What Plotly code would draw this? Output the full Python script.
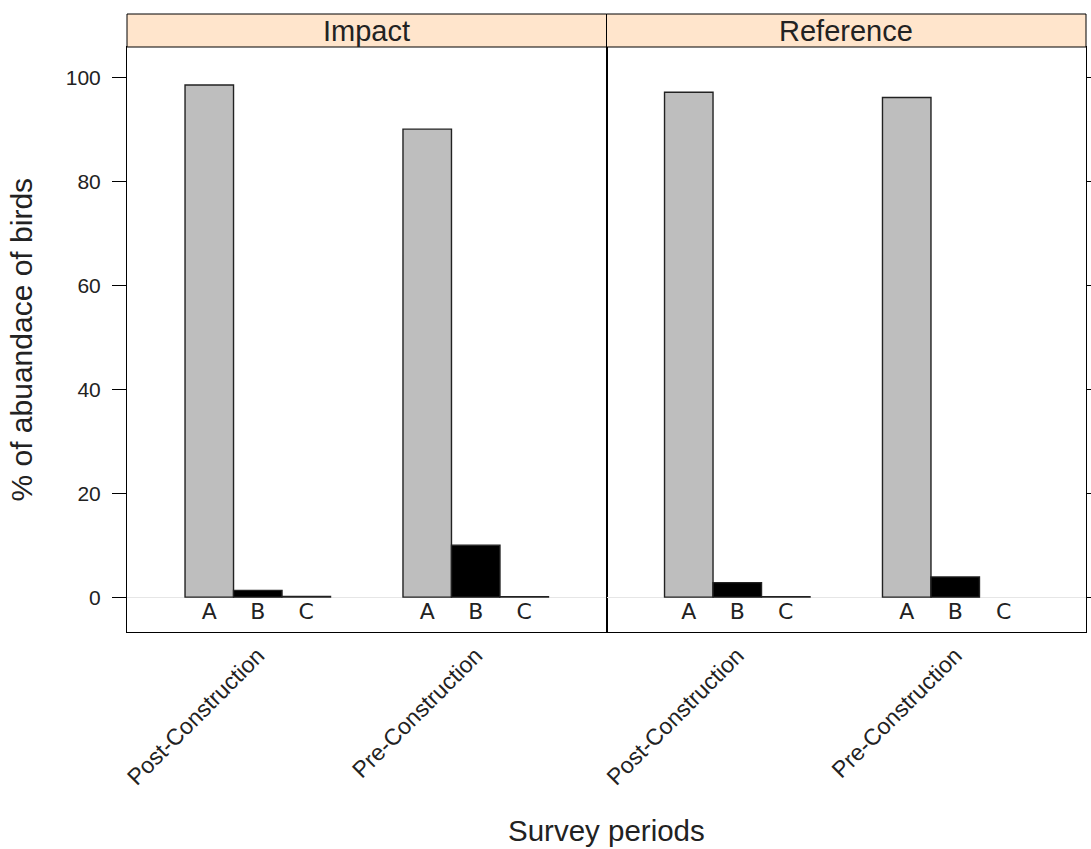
import plotly.graph_objects as go

# ---- data ----
periods = ["Post-Construction", "Pre-Construction"]
sites = ["Impact", "Reference"]
classes = ["A", "B", "C"]
impact_A = [98.5, 90.0]
impact_B = [1.3, 10.0]
impact_C = [0.15, 0.1]
reference_A = [97.1, 96.1]
reference_B = [2.8, 3.9]
reference_C = [0.1, None]
y_ticks = [0, 20, 40, 60, 80, 100]

site_values = {
    "Impact": [impact_A, impact_B, impact_C],
    "Reference": [reference_A, reference_B, reference_C],
}
class_colors = ["#BEBEBE", "#000000", "#FFFFFF"]

BARGAP = 0.3325
bar_w = (1 - BARGAP) / len(classes)
group_pos = list(range(1, len(periods) + 1))
LABEL_Y = -3.1

FONT = "Liberation Sans"
TXT = "#222222"

fig = go.Figure()
for si, site in enumerate(sites):
    xa = "x" if si == 0 else "x2"
    ya = "y" if si == 0 else "y2"
    for ci, cls in enumerate(classes):
        fig.add_trace(go.Bar(
            x=group_pos, y=site_values[site][ci], name=cls,
            marker=dict(color=class_colors[ci], line=dict(color="#222222", width=1.4)),
            offsetgroup=cls, xaxis=xa, yaxis=ya, showlegend=False,
        ))
        fig.add_trace(go.Scatter(
            x=[g + (ci - 1) * bar_w for g in group_pos],
            y=[LABEL_Y] * len(group_pos),
            mode="text", text=[cls] * len(group_pos),
            textfont=dict(family="DejaVu Sans", size=22, color=TXT),
            xaxis=xa, yaxis=ya, showlegend=False, hoverinfo="skip",
        ))

axis_common = dict(showline=True, linecolor="black", linewidth=1, mirror=True,
                   showgrid=False, zeroline=False, automargin=False)
xcommon = dict(axis_common, range=[0.4, 2.6], tickvals=group_pos, ticktext=periods,
               tickangle=-45, ticks="", tickfont=dict(family=FONT, size=23, color=TXT))
ycommon = dict(axis_common, range=[-6.7, 105.8], tickvals=y_ticks, ticks="outside",
               ticklen=14, tickcolor="black", ticklabelstandoff=7,
               tickfont=dict(family=FONT, size=21, color=TXT),
               zeroline=True, zerolinecolor="#e6e6e6", zerolinewidth=1)

fig.update_layout(
    width=1091, height=849,
    margin=dict(l=127, r=5, t=47, b=217),
    plot_bgcolor="white", paper_bgcolor="white",
    barmode="group", bargap=BARGAP, bargroupgap=0,
    xaxis=dict(xcommon, domain=[0, 0.5], anchor="y"),
    xaxis2=dict(xcommon, domain=[0.5, 1], anchor="y2"),
    yaxis=dict(ycommon, anchor="x"),
    yaxis2=dict(ycommon, anchor="x2", side="right", showticklabels=False, matches="y"),
)

strip_h = 33 / 585
for si, site in enumerate(sites):
    x0 = si * 0.5
    fig.add_shape(type="rect", xref="paper", yref="paper", x0=x0, x1=x0 + 0.5,
                  y0=1, y1=1 + strip_h, fillcolor="#FFE5CC",
                  line=dict(color="black", width=1), layer="above")
    fig.add_annotation(xref="paper", yref="paper", x=x0 + 0.25, y=1 + strip_h / 2,
                       text=site, showarrow=False, xanchor="center", yanchor="middle",
                       font=dict(family=FONT, size=29, color=TXT))

fig.add_annotation(xref="paper", yref="paper", x=0.5, y=-0.3385, xanchor="center",
                   yanchor="middle", text="Survey periods", showarrow=False,
                   font=dict(family=FONT, size=29.5, color=TXT))
fig.add_annotation(xref="paper", yref="paper", x=-0.1095, y=0.5, xanchor="center",
                   yanchor="middle", textangle=-90,
                   text="% of abuandace of birds", showarrow=False,
                   font=dict(family=FONT, size=30, color=TXT))

fig.write_html("out.html")
